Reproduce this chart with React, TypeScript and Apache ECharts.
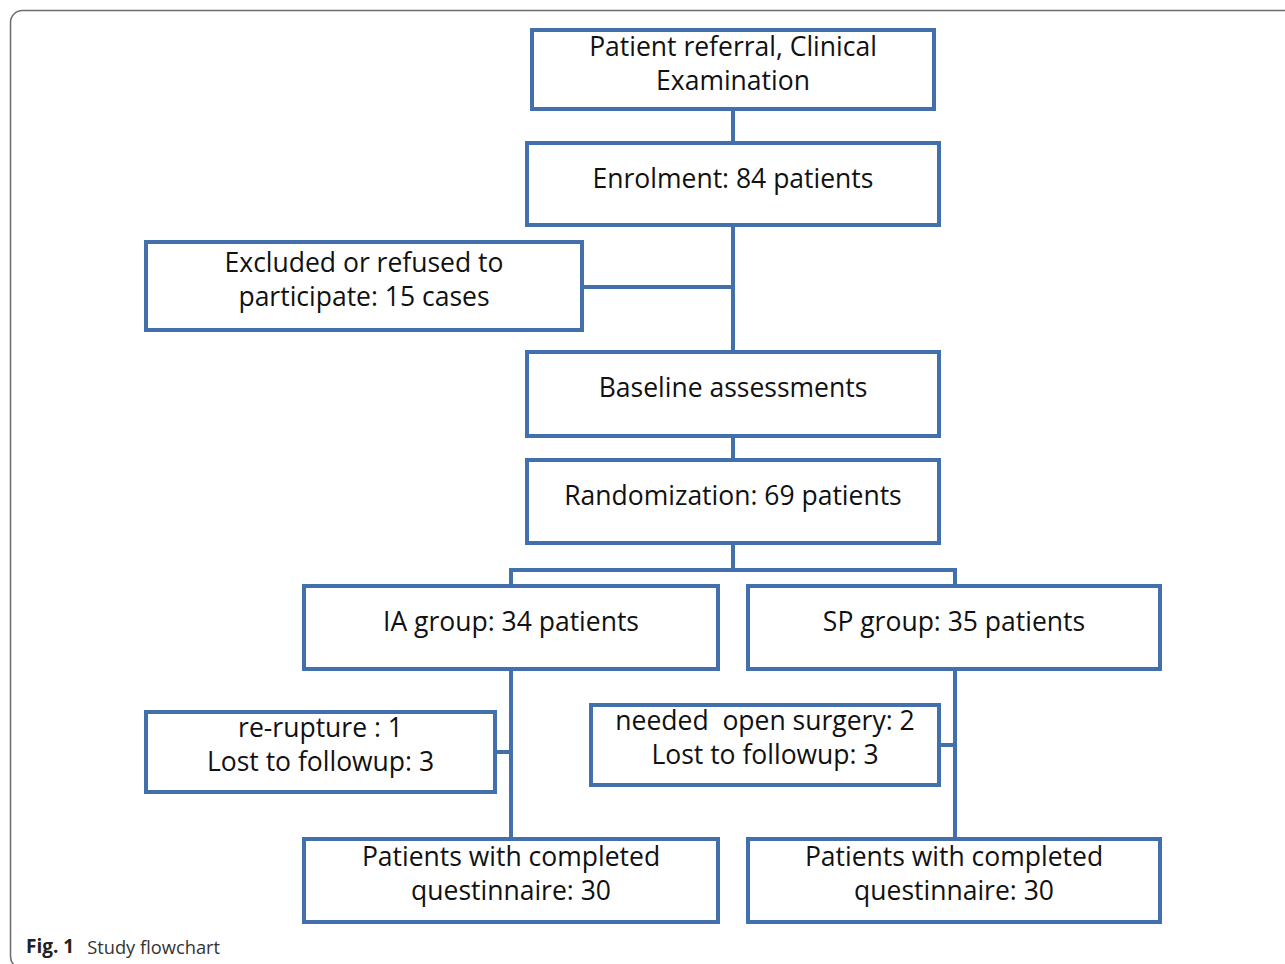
import React, { useEffect, useRef } from "react";
import * as echarts from "echarts";

// Node labels (flow order)
const nodeIds = ["referral", "enrol", "excluded", "baseline", "random", "ia", "sp", "iaLoss", "spLoss", "iaDone", "spDone"];
const nodeLabels = [
  "Patient referral, Clinical\nExamination",
  "Enrolment: 84 patients",
  "Excluded or refused to\nparticipate: 15 cases",
  "Baseline assessments",
  "Randomization: 69 patients",
  "IA group: 34 patients",
  "SP group: 35 patients",
  "re-rupture : 1\nLost to followup: 3",
  "needed  open surgery: 2\nLost to followup: 3",
  "Patients with completed\nquestinnaire: 30",
  "Patients with completed\nquestinnaire: 30",
];
const captionBold = "Fig. 1";
const captionText = "Study flowchart";

// Layout (positions in px): [x, y, w, h, textCenterY]
const layout: Record<string, [number, number, number, number, number]> = {
  referral: [532, 30, 402, 79, 63],
  enrol: [527, 143, 412, 82, 178],
  excluded: [146, 242, 436, 88, 279],
  baseline: [527, 352, 412, 84, 387],
  random: [527, 460, 412, 83, 495],
  ia: [304, 586, 414, 83, 621],
  sp: [748, 586, 412, 83, 621],
  iaLoss: [146, 712, 349, 80, 744],
  spLoss: [591, 705, 348, 80, 737],
  iaDone: [304, 839, 414, 83, 873],
  spDone: [748, 839, 412, 83, 873],
};

const BLUE = "#4170ad";
const FONT = "'Open Sans', 'Noto Sans', sans-serif";

export default function App() {
  const ref = useRef<HTMLDivElement>(null);
  useEffect(() => {
    document.body.style.margin = "0";
    const chart = echarts.init(ref.current!, undefined, { renderer: "svg" });
    const els: any[] = [];
    // outer frame
    els.push({
      type: "rect",
      shape: { x: 10.5, y: 10.5, width: 1300, height: 958, r: 12 },
      style: { fill: "none", stroke: "#6b6b6b", lineWidth: 1.5 },
    });
    const line = (pts: number[][]) =>
      els.push({ type: "polyline", shape: { points: pts }, style: { stroke: BLUE, lineWidth: 4, fill: "none" } });
    // connectors
    line([[733, 109], [733, 143]]);
    line([[733, 225], [733, 352]]);
    line([[582, 287], [733, 287]]);
    line([[733, 436], [733, 460]]);
    line([[733, 543], [733, 570]]);
    line([[511, 586], [511, 570], [955, 570], [955, 586]]);
    line([[511, 669], [511, 839]]);
    line([[495, 752], [511, 752]]);
    line([[955, 669], [955, 839]]);
    line([[939, 745], [955, 745]]);
    nodeIds.forEach((id, i) => {
      const [x, y, w, h, ty] = layout[id];
      els.push({
        type: "rect",
        shape: { x, y, width: w, height: h },
        style: { fill: "#fff", stroke: BLUE, lineWidth: 4 },
      });
      els.push({
        type: "text",
        x: x + w / 2,
        y: ty,
        style: {
          text: nodeLabels[i],
          fill: "#111",
          font: `26.5px ${FONT}`,
          lineHeight: 34,
          align: "center",
          verticalAlign: "middle",
        },
      });
    });
    els.push({
      type: "text",
      x: 26,
      y: 946,
      style: {
        text: `{b|${captionBold}}{n|${captionText}}`,
        verticalAlign: "middle",
        rich: {
          b: { font: `bold 19px ${FONT}`, fill: "#222" },
          n: { font: `18.3px ${FONT}`, fill: "#333", padding: [0, 0, 0, 13] },
        },
      },
    });
    chart.setOption({ animation: false, graphic: { elements: els } });
    return () => chart.dispose();
  }, []);
  return <div ref={ref} style={{ width: 1285, height: 964, background: "#fff" }} />;
}
